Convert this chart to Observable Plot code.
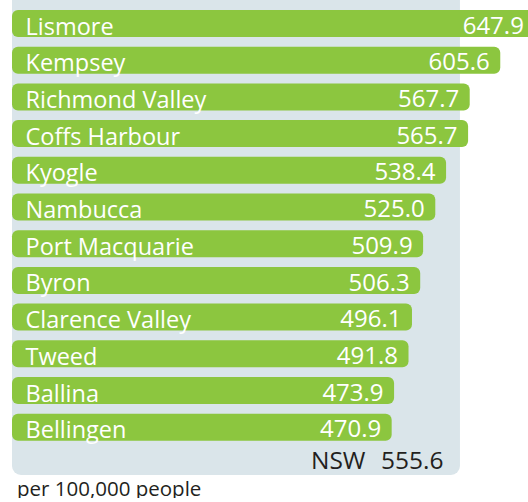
<!DOCTYPE html>
<html>
<head>
<meta charset="utf-8">
<script src="https://cdn.jsdelivr.net/npm/d3@7"></script>
<script src="https://cdn.jsdelivr.net/npm/@observablehq/plot@0.6"></script>
<style>
  html, body { margin: 0; padding: 0; background: #fff; overflow: hidden; }
  #chart svg { display: block; overflow: hidden; }
  #caption { font-family: "Open Sans", sans-serif; font-size: 20.5px; line-height: 20px; color: #231f20; padding-left: 17px; padding-top: 0px; }
</style>
</head>
<body>
<div id="chart"></div>
<div id="caption"></div>
<script>
const names = ["Lismore", "Kempsey", "Richmond Valley", "Coffs Harbour", "Kyogle", "Nambucca", "Port Macquarie", "Byron", "Clarence Valley", "Tweed", "Ballina", "Bellingen"];
const values = [647.9, 605.6, 567.7, 565.7, 538.4, 525.0, 509.9, 506.3, 496.1, 491.8, 473.9, 470.9];
const nswLabel = "NSW";
const nswValue = 555.6;
const unitLabel = "per 100,000 people";

const rows = names.map((name, i) => ({name, value: values[i]}));
const nsw = [{name: nswLabel, value: nswValue}];

const green = "#8cc63f";
const panel = "#dae5ea";
const dark = "#231f20";

const chart = Plot.plot({
  width: 528,
  height: 478,
  marginTop: 0, marginLeft: 0, marginRight: 0, marginBottom: 3,
  x: {domain: [0, 640], range: [12, 528], axis: null},
  y: {domain: [...names, nswLabel], range: [10, 477.4], paddingInner: 0.264, paddingOuter: 0, round: false, axis: null},
  style: {fontFamily: "Open Sans, sans-serif", background: "transparent"},
  marks: [
    Plot.barX(nsw, {x1: 0, x2: "value", fill: panel, rx: 9, insetTop: -20, clip: true}),
    Plot.barX(rows, {x1: 0, x2: "value", y: "name", fill: green, rx: 6, clip: true}),
    Plot.text(rows, {x: 0, y: "name", text: "name", dx: 13, dy: 3, textAnchor: "start", fill: "white", fontSize: 23.5}),
    Plot.text(rows, {x: "value", y: "name", text: d => d.value.toFixed(1), dx: -11, dy: 2, textAnchor: "end", fill: "white", fontSize: 24}),
    Plot.text(nsw, {x: "value", y: "name", text: d => d.value.toFixed(1), dx: -17, dy: -3.5, textAnchor: "end", fill: dark, fontSize: 24.5}),
    Plot.text(nsw, {x: "value", y: "name", text: "name", dx: -95, dy: -3.5, textAnchor: "end", fill: dark, fontSize: 24.5})
  ]
});
document.getElementById("chart").appendChild(chart);
document.getElementById("caption").textContent = unitLabel;
</script>
</body>
</html>
